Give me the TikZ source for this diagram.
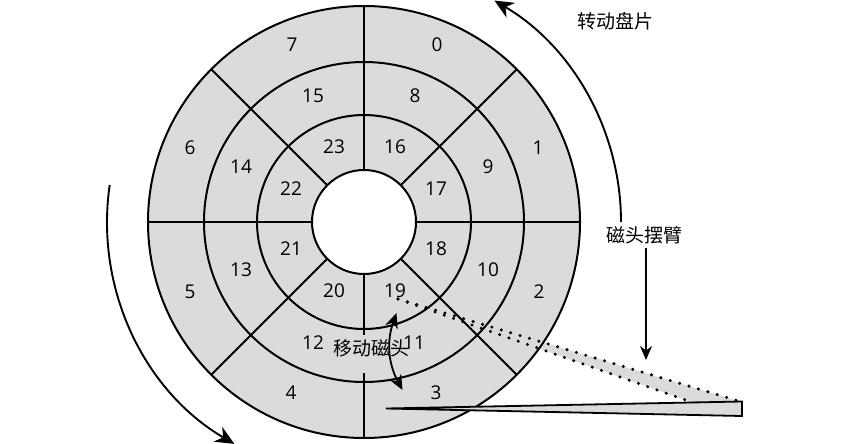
\documentclass[tikz,border=0pt]{standalone}
\usepackage{fontspec}
\setmainfont{Open Sans}
\newfontfamily\cjkfont{Noto Sans CJK SC}
\usetikzlibrary{arrows.meta}
\tikzset{
  platter/.style={draw=black, line width=2pt},
  spoke/.style={black, line width=2pt},
  sector/.style={font=\fontsize{19}{20}\selectfont, inner sep=0pt},
  caption/.style={font=\cjkfont\fontsize{19}{20}\selectfont, inner sep=1pt},
  turn/.style={line width=1.9pt, -{Stealth[length=19pt, width=17pt]}},
  seek/.style={line width=1.8pt, {Stealth[length=15pt, width=13pt]}-{Stealth[length=15pt, width=13pt]}},
  dotline/.style={line width=3.4pt, line cap=round, dash pattern=on 0pt off 9.8pt},
}
\begin{document}
\begin{tikzpicture}[x=1pt, y=1pt]
\useasboundingbox (0,-444) rectangle (851,0);
\coordinate (hub) at (364,-222);
% disc
\fill[black!14] (hub) circle (216);
\fill[black!14] (398,-299) -- (742,-402) -- (697,-404) -- cycle;
\fill[white] (hub) circle (52);
\draw[platter] (hub) circle (216);
\draw[platter] (hub) circle (160);
\draw[platter] (hub) circle (107);
\draw[platter] (hub) circle (52);
\draw[spoke] (hub) ++(0:52) -- ++(0:164);
\draw[spoke] (hub) ++(45:52) -- ++(45:164);
\draw[spoke] (hub) ++(90:52) -- ++(90:164);
\draw[spoke] (hub) ++(135:52) -- ++(135:164);
\draw[spoke] (hub) ++(180:52) -- ++(180:164);
\draw[spoke] (hub) ++(225:52) -- ++(225:164);
\draw[spoke] (hub) ++(270:52) -- ++(270:164);
\draw[spoke] (hub) ++(315:52) -- ++(315:164);
\fill[black!14] (340,-335) rectangle (395,-373);
% sector numbers
\node[sector] (s0) at (437,-45) {0};
\node[sector] (s1) at (538,-148) {1};
\node[sector] (s2) at (539,-292) {2};
\node[sector] (s3) at (436,-393) {3};
\node[sector] (s4) at (291,-393) {4};
\node[sector] (s5) at (190,-292) {5};
\node[sector] (s6) at (190,-148) {6};
\node[sector] (s7) at (292,-45) {7};
\node[sector] (s8) at (415,-96) {8};
\node[sector] (s9) at (488,-167) {9};
\node[sector] (s10) at (488,-270) {10};
\node[sector] (s11) at (414,-343) {11};
\node[sector] (s12) at (313,-343) {12};
\node[sector] (s13) at (241,-270) {13};
\node[sector] (s14) at (241,-167) {14};
\node[sector] (s15) at (313,-96) {15};
\node[sector] (s16) at (395,-147) {16};
\node[sector] (s17) at (436,-189) {17};
\node[sector] (s18) at (436,-249) {18};
\node[sector] (s19) at (395,-291) {19};
\node[sector] (s20) at (334,-291) {20};
\node[sector] (s21) at (291,-249) {21};
\node[sector] (s22) at (291,-189) {22};
\node[sector] (s23) at (334,-147) {23};
% head arm
\draw[dotline] (398,-299) -- (742,-402);
\draw[dotline] (398,-299) -- (697,-404);
\fill[black!14] (386,-408.5) -- (742,-402) -- (742,-416) -- cycle;
\draw[line width=1.8pt, line join=miter] (386,-408.5) -- (742,-401.5) -- (742,-416) -- cycle;
% captions
\node[caption] (spin) at (615,-21) {转动盘片};
\node[caption] (arm) at (644,-235) {磁头摆臂};
\coordinate (armtip) at (646,-360);
\draw[line width=1.6pt, shorten <=3pt, -{Stealth[length=14pt, width=12pt]}] (arm.south -| armtip) -- (armtip);
\node[caption] (move) at (371,-348) {移动磁头};
% arrows round the disc
\draw[turn] (hub) ++(0:257) arc[start angle=0, end angle=59.5, radius=257];
\draw[turn] (hub) ++(171.7:257) arc[start angle=171.7, end angle=239.7, radius=257];
\coordinate (seektop) at (396.5,-313);
\coordinate (seekbot) at (402.5,-390);
\draw[seek] (seektop) to[bend right=24] (seekbot);
\end{tikzpicture}
\end{document}
